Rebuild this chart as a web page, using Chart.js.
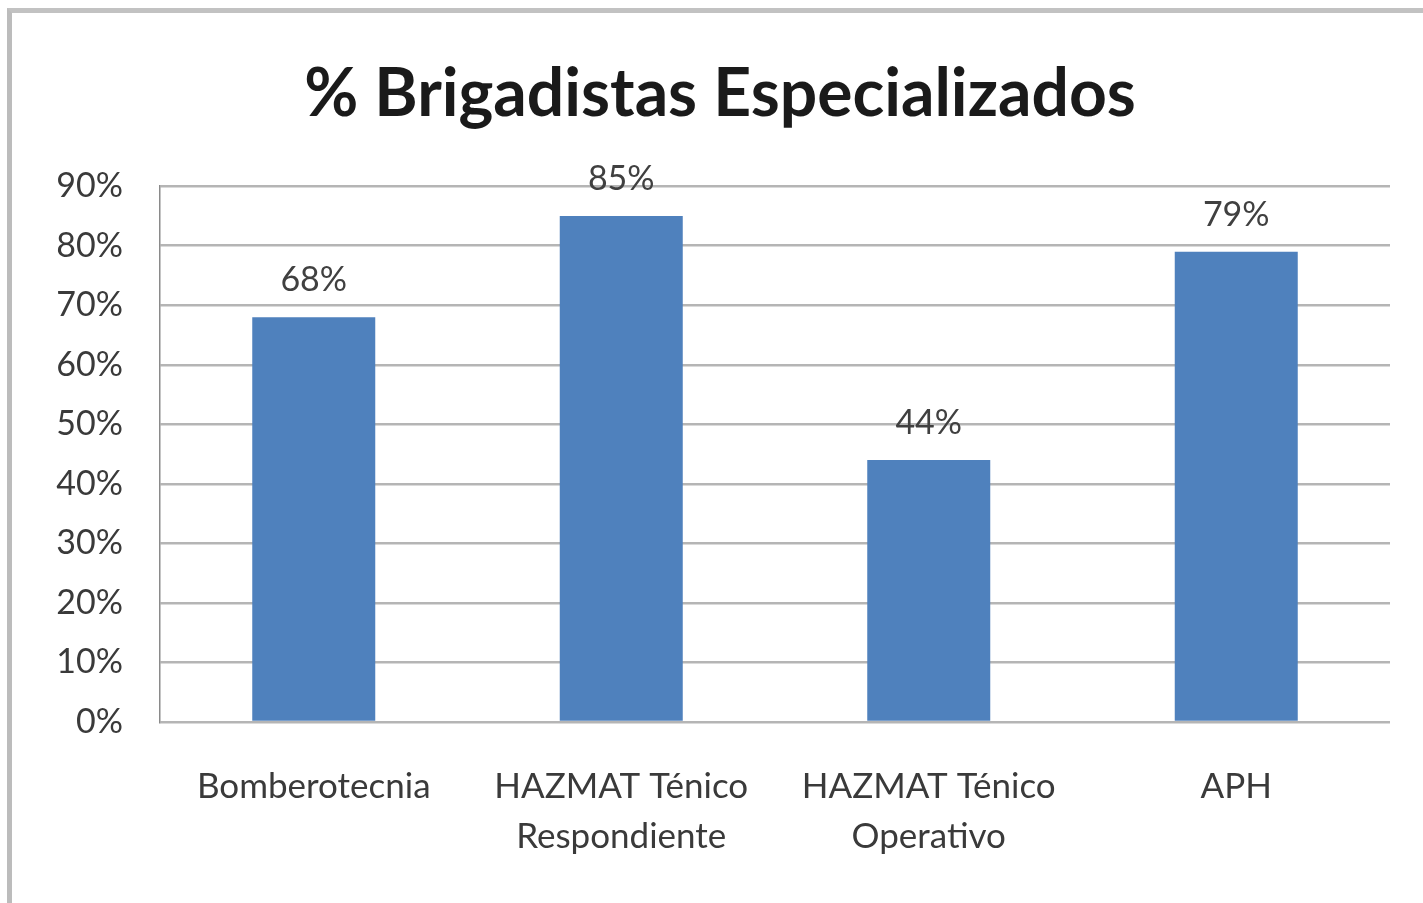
<!DOCTYPE html>
<html>
<head>
<meta charset="utf-8">
<script src="https://cdn.jsdelivr.net/npm/chart.js@4"></script>
<style>
  html, body { margin: 0; padding: 0; background: #fff; }
  #wrap { position: relative; width: 1423px; height: 903px; overflow: hidden; }
  #frame { position: absolute; left: 7px; top: 8px; width: 1430px; height: 891px;
           border-top: 5px solid #c2c2c2; border-left: 5px solid #bcbcbc;
           border-bottom: 2px solid #ececec; pointer-events: none; }
  canvas { position: absolute; left: 0; top: 0; }
</style>
</head>
<body>
<div id="wrap">
  <canvas id="chart" width="1423" height="903"></canvas>
  <div id="frame"></div>
</div>
<script>
const categories = [
  'Bomberotecnia',
  ['HAZMAT Ténico', 'Respondiente'],
  ['HAZMAT Ténico', 'Operativo'],
  'APH'
];
const values = [68, 85, 44, 79];
const yTicks = [0, 10, 20, 30, 40, 50, 60, 70, 80, 90];

const fontFamily = 'Lato, "Open Sans", sans-serif';

// draw the % value above each bar
const barLabels = {
  id: 'barLabels',
  afterDatasetsDraw(chart) {
    const ctx = chart.ctx;
    const meta = chart.getDatasetMeta(0);
    ctx.save();
    ctx.font = '34px ' + fontFamily;
    ctx.fillStyle = '#404040';
    ctx.textAlign = 'center';
    ctx.textBaseline = 'middle';
    meta.data.forEach((bar, i) => {
      ctx.fillText(values[i] + '%', bar.x, bar.y - 37);
    });
    ctx.restore();
  }
};

const ctx = document.getElementById('chart').getContext('2d');
new Chart(ctx, {
  type: 'bar',
  data: {
    labels: categories,
    datasets: [{
      label: '% Brigadistas',
      data: values,
      backgroundColor: '#4F81BD',
      categoryPercentage: 1,
      barPercentage: 0.40
    }]
  },
  options: {
    responsive: false,
    animation: false,
    layout: { padding: { left: 50, right: 33, top: 35, bottom: 0 } },
    plugins: {
      legend: { display: false },
      tooltip: { enabled: false },
      title: {
        display: true,
        text: '% Brigadistas Especializados',
        color: '#1a1a1a',
        font: { family: fontFamily, size: 66, weight: 'bold' },
        padding: { top: 20, bottom: 52 }
      }
    },
    scales: {
      x: {
        grid: { display: false },
        border: { display: false },
        ticks: {
          color: '#3a3a3a',
          font: { family: fontFamily, size: 35, lineHeight: 1.43 },
          padding: 32,
          maxRotation: 0,
          autoSkip: false
        },
        afterFit(scale) { scale.height = 181; }
      },
      y: {
        min: 0,
        max: 90,
        afterBuildTicks(scale) { scale.ticks = yTicks.map(v => ({ value: v })); },
        ticks: {
          color: '#3a3a3a',
          font: { family: fontFamily, size: 34 },
          padding: 37,
          callback: v => v + '%'
        },
        grid: { color: '#b5b5b5', lineWidth: 2.5, drawTicks: false },
        border: { display: true, color: '#8a8a8a', width: 1.5 },
        afterFit(scale) { scale.width = 110; }
      }
    }
  },
  plugins: [barLabels]
});
</script>
</body>
</html>
